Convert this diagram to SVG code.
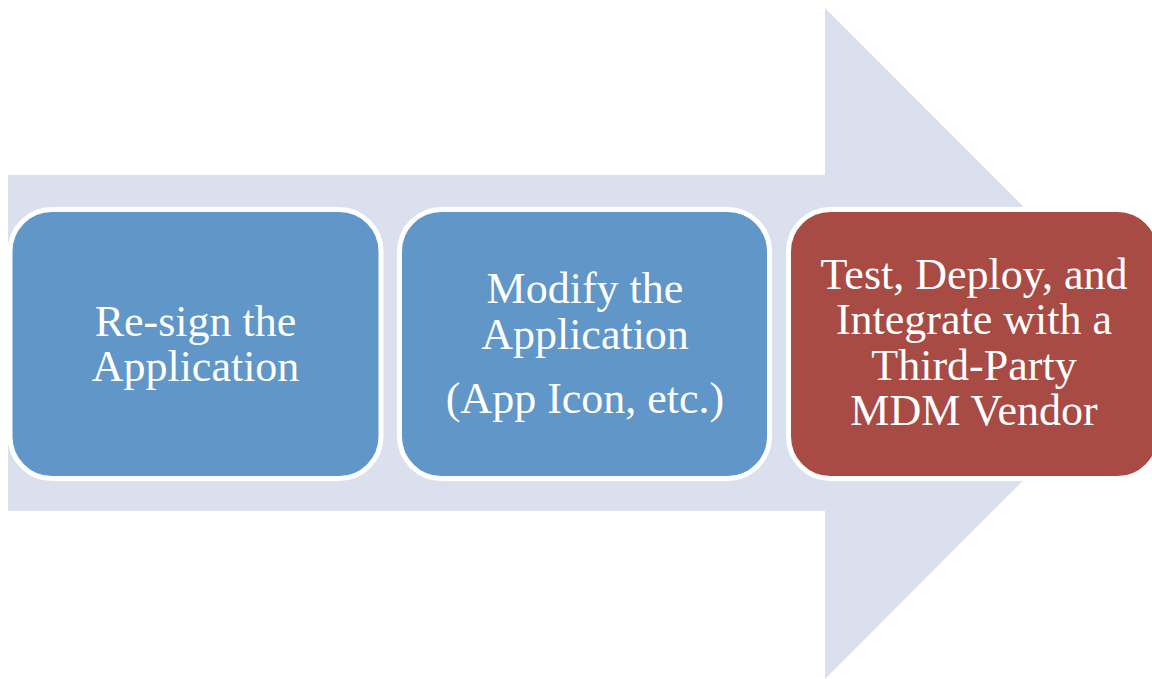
<svg xmlns="http://www.w3.org/2000/svg" width="1152" height="679" viewBox="0 0 1152 679">
<style>
.box{stroke:#FFFFFF;stroke-width:5}
.blue{fill:#6196C8}
.red{fill:#A84B45}
.t{font-family:"Liberation Serif","Times New Roman",serif;font-size:44px;fill:#FFFFFF;text-anchor:middle}
</style>
<rect width="1152" height="679" fill="#FFFFFF"/>
<g id="connectors">
<path d="M8 175 H825 V8 L1160 343.5 L825 679 V511 H8 Z" fill="#DAE0EE"/>
</g>
<g id="node1">
<rect class="box blue" x="10" y="209.5" width="371" height="269" rx="42"/>
<text class="t" x="195.5" y="336">Re-sign the</text>
<text class="t" x="195.5" y="381">Application</text>
</g>
<g id="node2">
<rect class="box blue" x="399.5" y="209.5" width="370" height="269" rx="42"/>
<text class="t" x="585" y="303">Modify the</text>
<text class="t" x="585" y="349">Application</text>
<text class="t" x="585" y="413">(App Icon, etc.)</text>
</g>
<g id="node3">
<rect class="box red" x="788.5" y="209.5" width="371" height="269" rx="42"/>
<text class="t" x="974" y="289">Test, Deploy, and</text>
<text class="t" x="974" y="334">Integrate with a</text>
<text class="t" x="974" y="380">Third-Party</text>
<text class="t" x="974" y="425">MDM Vendor</text>
</g>
</svg>
